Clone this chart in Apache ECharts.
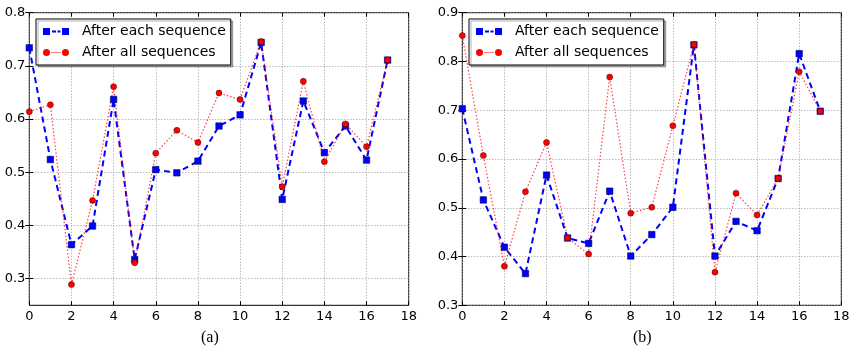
<!DOCTYPE html>
<html>
<head>
<meta charset="utf-8">
<script src="https://cdn.jsdelivr.net/npm/echarts@6/dist/echarts.min.js"></script>
<style>
html,body{margin:0;padding:0;background:#fff;}
#chart{width:857px;height:353px;}
</style>
</head>
<body>
<div id="chart"></div>
<script>
// ---- data ----
const steps = [0,1,2,3,4,5,6,7,8,9,10,11,12,13,14,15,16,17];
const aEach = [0.734,0.524,0.364,0.399,0.637,0.336,0.505,0.499,0.521,0.587,0.608,0.744,0.449,0.634,0.537,0.587,0.523,0.711];
const aAll  = [0.614,0.627,0.289,0.447,0.661,0.330,0.536,0.579,0.556,0.649,0.637,0.746,0.473,0.671,0.520,0.591,0.548,0.711];
const bEach = [0.703,0.516,0.419,0.365,0.567,0.438,0.427,0.534,0.401,0.445,0.501,0.834,0.401,0.472,0.453,0.560,0.816,0.698];
const bAll  = [0.853,0.607,0.380,0.533,0.634,0.438,0.405,0.768,0.489,0.501,0.668,0.835,0.368,0.530,0.485,0.560,0.779,0.698];
const xTicks = [0,2,4,6,8,10,12,14,16,18];
const yTicksA = [0.3,0.4,0.5,0.6,0.7,0.8];
const yTicksB = [0.3,0.4,0.5,0.6,0.7,0.8,0.9];
const seriesNames = ['After each sequence','After all sequences'];
const panelLabels = ['(a)','(b)'];

const pairs = arr => arr.map((v,i)=>[steps[i], v]);

const chart = echarts.init(document.getElementById('chart'), null, {renderer:'canvas'});

const labelStyle = {color:'#000', fontSize:13, fontFamily:'DejaVu Sans'};
const gridLine = {show:true, lineStyle:{color:'#9a9a9a', type:[1,2], width:1}};

function xAxes(gi){
  return [
    {type:'value', gridIndex:gi, min:0, max:18, interval:2, position:'bottom',
     axisLine:{show:false}, axisTick:{show:true, inside:true, length:4, lineStyle:{color:'#000'}},
     axisLabel:Object.assign({margin:5}, labelStyle), splitLine:gridLine},
    {type:'value', gridIndex:gi, min:0, max:18, interval:2, position:'top',
     axisLine:{show:false}, axisTick:{show:true, inside:true, length:4, lineStyle:{color:'#000'}},
     axisLabel:{show:false}, splitLine:{show:false}}
  ];
}
function yAxes(gi, min, max, ticks){
  return [
    {type:'value', gridIndex:gi, min:min, max:max, position:'left',
     axisLine:{show:false},
     axisTick:{show:true, inside:true, length:4, lineStyle:{color:'#000'}, customValues:ticks},
     axisLabel:Object.assign({margin:4, customValues:ticks, formatter:v=>v.toFixed(1)}, labelStyle),
     splitLine:gridLine},
    {type:'value', gridIndex:gi, min:min, max:max, position:'right',
     axisLine:{show:false},
     axisTick:{show:true, inside:true, length:4, lineStyle:{color:'#000'}, customValues:ticks},
     axisLabel:{show:false, customValues:ticks}, splitLine:{show:false}}
  ];
}

const blueIcon = 'path://M0 0H7V7H0Z M9 2.5H13V4.5H9Z M14.5 2.5H17.5V4.5H14.5Z M19 0H26V7H19Z';
const redIcon = 'path://M0 3.5A3.5 3.5 0 1 0 7 3.5A3.5 3.5 0 1 0 0 3.5Z M8.5 3H9.5V4H8.5Z M10.5 3H11.5V4H10.5Z M12.5 3H13.5V4H12.5Z M14.5 3H15.5V4H14.5Z M16.5 3H17.5V4H16.5Z M19 3.5A3.5 3.5 0 1 0 26 3.5A3.5 3.5 0 1 0 19 3.5Z';

function makeSeries(gi, each, all, suffix){
  return [
    {name:seriesNames[0]+suffix, type:'line', xAxisIndex:gi*2, yAxisIndex:gi*2, data:pairs(each),
     symbol:'rect', symbolSize:6.5, showSymbol:true, animation:false,
     lineStyle:{color:'#0000ff', width:2, type:[6,4]},
     itemStyle:{color:'#0000ff', borderColor:'#000040', borderWidth:0.5}},
    {name:seriesNames[1]+suffix, type:'line', xAxisIndex:gi*2, yAxisIndex:gi*2, data:pairs(all),
     symbol:'circle', symbolSize:6, showSymbol:true, animation:false,
     lineStyle:{color:'rgba(255,0,0,0.75)', width:1.2, type:[1.5,2]},
     itemStyle:{color:'#ff0000', borderColor:'#400000', borderWidth:0.5}}
  ];
}

function legend(left, suffix){
  return {
    left:left, top:19, orient:'vertical',
    data:[{name:seriesNames[0]+suffix, icon:blueIcon},{name:seriesNames[1]+suffix, icon:redIcon}],
    formatter: n => n.replace(/\u200b/g,''),
    itemWidth:26, itemHeight:7, itemGap:4,
    padding:[4,5,4,7],
    itemStyle:{borderWidth:0},
    lineStyle:{width:0},
    borderColor:'#000', borderWidth:1, backgroundColor:'#fff',
    shadowColor:'rgba(0,0,0,0.3)', shadowOffsetX:2, shadowOffsetY:2, shadowBlur:0,
    textStyle:{color:'#000', fontSize:14, fontFamily:'DejaVu Sans', padding:[0,0,0,8], lineHeight:17},
    selectedMode:false
  };
}

const option = {
  backgroundColor:'#fff',
  animation:false,
  grid:[
    {left:29.3, top:12.7, right:448.3, bottom:47.7, show:true, borderColor:'#000', borderWidth:1, backgroundColor:'transparent'},
    {left:462.3, top:12.7, right:15.7, bottom:47.7, show:true, borderColor:'#000', borderWidth:1, backgroundColor:'transparent'}
  ],
  xAxis:[].concat(xAxes(0), xAxes(1)),
  yAxis:[].concat(yAxes(0,0.25,0.8,yTicksA), yAxes(1,0.3,0.9,yTicksB)),
  legend:[legend(36,''), legend(469,'\u200b')],
  series:[].concat(makeSeries(0,aEach,aAll,''), makeSeries(1,bEach,bAll,'\u200b')),
  graphic:[
    {type:'text', left:201, top:330, style:{text:panelLabels[0], fill:'#000', font:'16px "Liberation Serif"'}},
    {type:'text', left:633, top:330, style:{text:panelLabels[1], fill:'#000', font:'16px "Liberation Serif"'}}
  ]
};
chart.setOption(option);
</script>
</body>
</html>
